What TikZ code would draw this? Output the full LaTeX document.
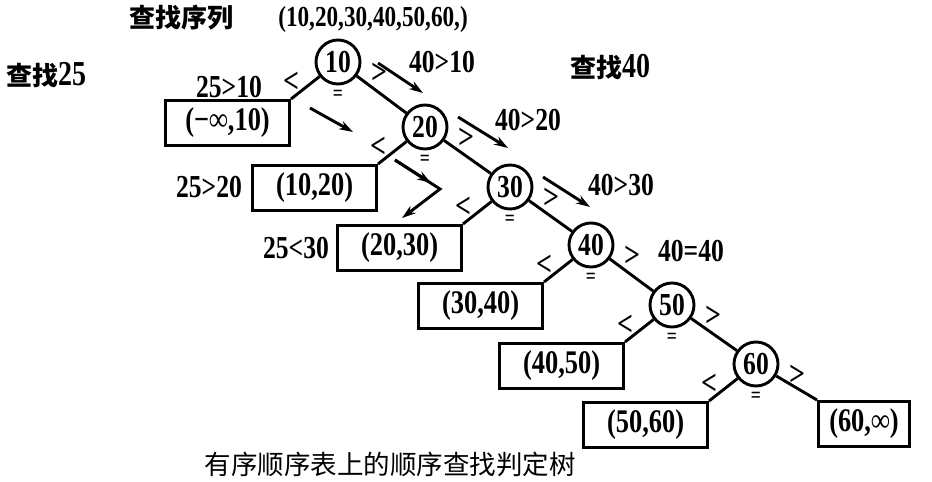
\documentclass[tikz,border=0pt]{standalone}
\usepackage{fontspec}
\setmainfont{Liberation Serif}[FakeStretch=0.8]
\newfontfamily\cjk{Noto Sans CJK SC}
\usetikzlibrary{arrows.meta}

\begin{document}
\begin{tikzpicture}[x=1pt,y=-1pt,line width=2.9pt,
  key/.style={circle,draw,inner sep=0pt,minimum size=44pt,font=\fontsize{32}{34}\selectfont\bfseries},
  gap/.style={rectangle,draw,minimum width=124pt,minimum height=45pt,inner sep=0pt,font=\fontsize{33}{34}\selectfont\bfseries},
  sym/.style={inner sep=0pt,font=\fontsize{35}{36}\selectfont\bfseries},
  eqs/.style={inner sep=0pt,font=\fontsize{22}{24}\selectfont\bfseries},
  cmp/.style={inner sep=0pt,font=\fontsize{32}{34}\selectfont\bfseries},
  head/.style={inner sep=0pt,font=\fontsize{26}{28}\selectfont\cjk\bfseries},
  arr/.style={-{Stealth[length=14pt,width=9pt]}}]
\useasboundingbox (0,0) rectangle (932,482);
% keys of the ordered table
\foreach \v/\px/\py in {10/338/62,20/425/127,30/510/187,40/591/245,50/672/305,60/756/364} {
   \node[key] (n\v) at (\px,\py) {\v};
   \node[sym] (lt\v) at ([shift={(-47,20)}]n\v.center) {<};
   \node[sym] (gt\v) at ([shift={(41,11)}]n\v.center) {>};
   \node[eqs] (eq\v) at ([shift={(0,33)}]n\v.center) {=};
}
% failure intervals
\foreach \v/\t in {10/{(−∞,10)},20/{(10,20)},30/{(20,30)},40/{(30,40)},50/{(40,50)},60/{(50,60)}} {
   \node[gap,anchor=north east] (b\v) at ([shift={(-47,37)}]n\v.center) {\t};
   \draw (n\v) -- (b\v.north east);
}
\node[gap,anchor=north west,minimum width=91pt] (b70) at ([shift={(61,36)}]n60.center) {(60,∞)};
\draw (n60) -- (b70.north west);
\foreach \a/\b in {10/20,20/30,30/40,40/50,50/60} {
   \draw (n\a) -- (n\b);
}
% titles
\node[head] (t0) at (181,18) {查找序列};
\node[cmp,font=\fontsize{29}{30}\selectfont\bfseries] (t1) at (373,20) {(10,20,30,40,50,60,)};
\node[head] (s25) at (46,75) {查找{\rmfamily\bfseries\fontsize{35}{36}\selectfont 25}};
\node[head] (s40) at (610,67) {查找{\rmfamily\bfseries\fontsize{35}{36}\selectfont 40}};
% search 40
\node[cmp] (c1) at (442,62) {40>10};
\node[cmp] (c2) at (528,120) {40>20};
\node[cmp] (c3) at (621,185) {40>30};
\node[cmp] (c4) at (691,251) {40=40};
\coordinate (p1) at (378,63);  \coordinate (q1) at (423,93);
\coordinate (p2) at (458,117); \coordinate (q2) at (508,148);
\coordinate (p3) at (543,177); \coordinate (q3) at (590,207);
\draw[arr] (p1) -- (q1);
\draw[arr] (p2) -- (q2);
\draw[arr] (p3) -- (q3);
% search 25
\node[cmp] (d1) at (229,87) {25>10};
\node[cmp] (d2) at (209,187) {25>20};
\node[cmp] (d3) at (296,248) {25<30};
\coordinate (u1) at (310,108); \coordinate (v1) at (353,132);
\coordinate (u2) at (395,160); \coordinate (m2) at (431,183);
\coordinate (w2) at (440,189); \coordinate (v2) at (402,218);
\draw[arr] (u1) -- (v1);
\draw[arr] (u2) -- (m2);
\draw[arr] (u2) -- (w2) -- (v2);
% caption
\node[inner sep=0pt,font=\fontsize{26.5}{28}\selectfont\cjk] (cap) at (390,464) {有序顺序表上的顺序查找判定树};
\end{tikzpicture}
\end{document}
